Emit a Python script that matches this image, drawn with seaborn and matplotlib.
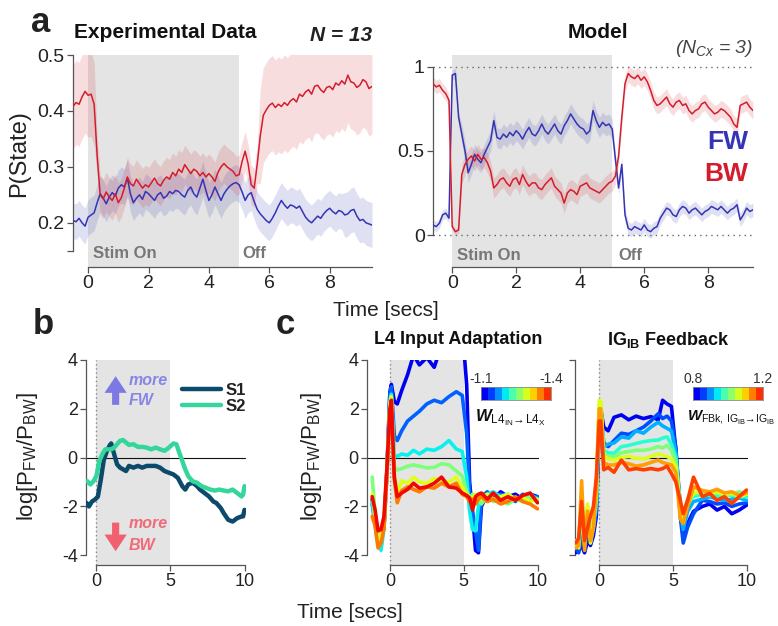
import numpy as np
import pandas as pd
import matplotlib
matplotlib.use('Agg')
import matplotlib.pyplot as plt
import seaborn as sns
from matplotlib.colors import ListedColormap

# ---------------- data ----------------
t_exp = np.round(np.arange(-0.5, 9.41, 0.1), 1)
red_exp = [0.408, 0.415, 0.412, 0.425, 0.435, 0.428, 0.430, 0.412, 0.320, 0.250,
           0.243, 0.255, 0.246, 0.240, 0.252, 0.236, 0.245, 0.262, 0.282, 0.270,
           0.266, 0.278, 0.270, 0.262, 0.268, 0.264, 0.272, 0.280, 0.270, 0.266,
           0.276, 0.282, 0.278, 0.290, 0.284, 0.296, 0.290, 0.304, 0.296, 0.288,
           0.296, 0.292, 0.284, 0.290, 0.282, 0.288, 0.282, 0.274, 0.290, 0.300,
           0.306, 0.300, 0.296, 0.292, 0.284, 0.286, 0.310, 0.328, 0.305, 0.268,
           0.262, 0.305, 0.355, 0.392, 0.402, 0.410, 0.414, 0.406, 0.412, 0.408,
           0.415, 0.410, 0.418, 0.422, 0.416, 0.430, 0.426, 0.434, 0.438, 0.430,
           0.444, 0.446, 0.438, 0.433, 0.442, 0.444, 0.438, 0.450, 0.446, 0.454,
           0.448, 0.464, 0.452, 0.450, 0.442, 0.446, 0.456, 0.452, 0.440, 0.444]
blue_exp = [0.204, 0.202, 0.208, 0.200, 0.194, 0.210, 0.214, 0.218, 0.236, 0.252,
            0.244, 0.234, 0.246, 0.254, 0.248, 0.262, 0.268, 0.264, 0.280, 0.252,
            0.236, 0.244, 0.250, 0.242, 0.256, 0.252, 0.246, 0.240, 0.250, 0.254,
            0.244, 0.248, 0.256, 0.252, 0.258, 0.256, 0.250, 0.246, 0.258, 0.264,
            0.252, 0.246, 0.262, 0.278, 0.258, 0.240, 0.250, 0.264, 0.252, 0.240,
            0.252, 0.260, 0.266, 0.270, 0.272, 0.268, 0.255, 0.240, 0.250, 0.254,
            0.238, 0.224, 0.216, 0.210, 0.204, 0.200, 0.208, 0.218, 0.230, 0.240,
            0.232, 0.226, 0.232, 0.230, 0.226, 0.230, 0.220, 0.210, 0.204, 0.200,
            0.206, 0.212, 0.208, 0.216, 0.222, 0.226, 0.220, 0.216, 0.222, 0.220,
            0.214, 0.216, 0.222, 0.224, 0.212, 0.204, 0.206, 0.200, 0.198, 0.196]
red_exp_err = [0.075] * 8 + [0.035] * 54 + [0.085] * 38
blue_exp_err = [0.032] * 90 + [0.04] * 10

t_mod = np.round(np.arange(-0.6, 9.41, 0.1), 1)
red_mod = [0.90, 0.88, 0.89, 0.86, 0.84, 0.80, 0.05, 0.02, 0.03, 0.36,
           0.42, 0.45, 0.47, 0.44, 0.48, 0.45, 0.46, 0.43, 0.38, 0.28,
           0.30, 0.33, 0.34, 0.31, 0.29, 0.33, 0.34, 0.30, 0.36, 0.32,
           0.29, 0.31, 0.31, 0.28, 0.27, 0.30, 0.32, 0.34, 0.29, 0.27,
           0.25, 0.19, 0.25, 0.27, 0.26, 0.24, 0.29, 0.30, 0.31, 0.28,
           0.27, 0.26, 0.25, 0.27, 0.29, 0.31, 0.32, 0.35, 0.47, 0.70,
           0.90, 0.96, 0.94, 0.93, 0.95, 0.92, 0.94, 0.91, 0.86, 0.80,
           0.77, 0.78, 0.80, 0.82, 0.78, 0.76, 0.79, 0.80, 0.77, 0.78,
           0.74, 0.72, 0.74, 0.75, 0.78, 0.79, 0.76, 0.74, 0.72, 0.73,
           0.75, 0.74, 0.72, 0.70, 0.66, 0.64, 0.77, 0.78, 0.79, 0.76,
           0.74]
blue_mod = [0.06, 0.05, 0.07, 0.12, 0.13, 0.10, 0.95, 0.96, 0.70, 0.60,
            0.50, 0.37, 0.42, 0.48, 0.45, 0.43, 0.48, 0.52, 0.56, 0.68,
            0.58, 0.57, 0.60, 0.58, 0.61, 0.59, 0.62, 0.60, 0.57, 0.61,
            0.64, 0.60, 0.59, 0.62, 0.66, 0.62, 0.60, 0.63, 0.66, 0.62,
            0.60, 0.65, 0.68, 0.72, 0.69, 0.66, 0.64, 0.63, 0.60, 0.62,
            0.74, 0.68, 0.64, 0.67, 0.65, 0.66, 0.63, 0.45, 0.28, 0.42,
            0.12, 0.04, 0.03, 0.05, 0.04, 0.03, 0.06, 0.03, 0.02, 0.04,
            0.05, 0.10, 0.13, 0.16, 0.15, 0.12, 0.11, 0.15, 0.17, 0.16,
            0.13, 0.15, 0.16, 0.14, 0.12, 0.14, 0.15, 0.17, 0.16, 0.15,
            0.17, 0.15, 0.13, 0.15, 0.16, 0.18, 0.09, 0.12, 0.16, 0.14,
            0.15]
red_mod_err = [0.04] * 6 + [0.02] * 3 + [0.06] * 48 + [0.05] * 44
blue_mod_err = [0.03] * 9 + [0.06] * 48 + [0.04] * 44

s1_t = [-0.65, -0.5, -0.3, -0.1, 0.1, 0.3, 0.5, 0.7, 0.9, 1.0, 1.2, 1.4, 1.6, 1.8, 2.0,
        2.2, 2.5, 2.8, 3.1, 3.4, 3.7, 4.0, 4.3, 4.6, 4.9, 5.2, 5.5, 5.8, 6.0, 6.2,
        6.5, 6.8, 7.0, 7.3, 7.6, 7.9, 8.1, 8.4, 8.6, 8.9, 9.2, 9.5, 9.8, 9.9, 10.0]
s1_v = [-1.86, -2.0, -1.8, -1.72, -1.6, -0.9, -0.1, 0.25, 0.5, 0.58, 0.14, -0.28, -0.41, -0.48, -0.55,
        -0.34, -0.41, -0.34, -0.41, -0.34, -0.34, -0.34, -0.41, -0.55, -0.62, -0.69, -0.83, -1.17, -1.31, -1.1,
        -1.03, -1.17, -1.31, -1.45, -1.59, -1.8, -1.86, -2.07, -2.28, -2.55, -2.62, -2.48, -2.41, -2.41, -2.14]
s2_t = [-0.6, -0.4, -0.2, 0.0, 0.2, 0.4, 0.6, 0.8, 1.0, 1.2, 1.4, 1.6, 1.8, 2.0, 2.2,
        2.5, 2.8, 3.1, 3.4, 3.7, 4.0, 4.3, 4.6, 4.9, 5.2, 5.4, 5.6, 5.8, 6.0, 6.2,
        6.5, 6.8, 7.1, 7.4, 7.7, 8.0, 8.3, 8.6, 8.9, 9.2, 9.5, 9.8, 9.9, 10.0]
s2_v = [-0.97, -1.1, -0.97, -0.76, -0.14, 0.14, 0.34, 0.34, 0.34, 0.41, 0.55, 0.69, 0.72, 0.62, 0.52,
        0.55, 0.44, 0.44, 0.41, 0.34, 0.41, 0.34, 0.28, 0.41, 0.58, 0.55, 0.2, -0.14, -0.48, -0.76,
        -0.97, -1.03, -1.17, -1.24, -1.31, -1.35, -1.31, -1.35, -1.38, -1.31, -1.45, -1.59, -1.52, -1.17]

t_cl = [-1.2, -1.0, -0.8, -0.6, -0.4, -0.2, 0.0, 0.1,
        0.3, 0.5, 0.8, 1.2, 1.6, 2.0, 2.5, 3.0, 3.5, 4.0, 4.5, 4.9,
        5.2, 5.4, 5.6, 5.8, 6.0, 6.2, 6.6, 7.0, 7.5, 8.0, 8.5, 9.0, 9.5, 10.0]
cl_curves = [
    [-1.7, -2.6, -3.4, -3.2, -2.9, -0.5, 2.7, 3.0,
     2.3, 2.2, 2.75, 3.4, 4.2, 3.8, 4.1, 3.7, 4.6, 5.0, 5.2, 5.3,
     3.0, -1.0, -2.3, -3.8, -3.9, -2.0, -1.5, -1.7, -1.4, -1.6, -1.5, -1.7, -1.5, -1.6],
    [-1.9, -2.7, -3.5, -3.3, -2.8, -0.6, 2.6, 2.9,
     0.9, 0.7, 1.1, 1.5, 1.7, 1.9, 2.2, 2.35, 2.25, 2.5, 2.7, 2.55,
     1.0, -1.4, -2.2, -3.0, -3.8, -1.6, -1.4, -1.7, -1.5, -1.6, -1.8, -1.5, -1.7, -1.6],
    [-1.8, -2.8, -3.6, -3.8, -2.9, -0.7, 2.3, 2.6,
     0.1, 0.05, 0.15, 0.1, 0.3, 0.15, 0.35, 0.3, 0.45, 0.7, 0.35, 0.25,
     -0.8, -2.2, -2.95, -3.0, -2.0, -1.6, -1.5, -1.4, -1.6, -1.5, -1.7, -1.6, -1.5, -1.7],
    [-0.8, -2.3, -3.2, -3.1, -2.7, -0.6, 2.1, 2.4,
     -0.4, -0.5, -0.45, -0.35, -0.3, -0.35, -0.42, -0.4, -0.25, -0.3, -0.55, -0.75,
     -1.4, -1.7, -1.5, -1.6, -1.7, -1.9, -1.6, -1.8, -1.7, -1.9, -1.7, -1.8, -1.6, -1.8],
    [-1.5, -2.4, -3.4, -3.2, -2.7, -0.5, 2.2, 2.5,
     -0.6, -1.45, -0.95, -1.05, -0.8, -1.0, -1.05, -0.85, -0.95, -1.0, -0.8, -1.2,
     -1.5, -1.6, -1.7, -1.5, -1.6, -1.7, -1.5, -1.7, -1.6, -1.5, -1.7, -1.6, -1.8, -1.7],
    [-2.4, -2.8, -3.7, -3.5, -2.9, -0.8, 1.9, 2.2,
     -0.9, -1.85, -1.35, -1.2, -1.3, -1.4, -1.2, -1.25, -1.05, -1.2, -1.05, -1.5,
     -1.6, -1.8, -1.7, -1.9, -1.7, -1.6, -1.8, -1.7, -1.9, -1.8, -1.6, -1.8, -1.9, -2.1],
    [-1.6, -2.15, -3.0, -2.95, -2.4, -0.4, 2.0, 2.35,
     -0.8, -1.6, -1.45, -1.3, -1.05, -1.25, -1.2, -1.05, -0.8, -1.2, -1.25, -1.45,
     -1.55, -1.65, -2.15, -1.6, -1.5, -1.45, -1.7, -1.45, -1.75, -1.6, -1.75, -1.55, -1.45, -1.85],
]
cl_levels = [0.1, 0.22, 0.36, 0.5, 0.62, 0.78, 0.9]

t_cr = [-1.6, -1.4, -1.2, -1.0, -0.8, -0.6, -0.4, -0.2, -0.1, 0.0,
        0.1, 0.3, 0.6, 1.0, 1.5, 2.0, 2.5, 3.0, 3.5, 4.0, 4.3, 4.6, 4.9,
        5.2, 5.5, 5.7, 6.0, 6.4, 7.0, 7.5, 8.0, 8.5, 9.0, 9.5, 10.0]
cr_curves = [
    [-3.9, -3.8, -3.6, -3.9, -3.4, -3.6, -3.2, -2.4, -0.5, 1.4,
     2.0, 1.25, 1.1, 1.65, 1.75, 1.55, 1.7, 1.6, 1.68, 1.55, 2.35, 2.2, 2.1,
     0.3, -2.0, -3.3, -2.7, -2.2, -2.0, -1.9, -2.15, -2.0, -2.3, -2.15, -1.95],
    [-3.7, -3.9, -3.3, -3.7, -3.1, -3.5, -3.0, -2.2, -0.3, 1.6,
     1.9, 0.6, 0.45, 0.7, 1.0, 0.95, 1.1, 1.25, 1.5, 1.8, 1.6, 1.7, 1.5,
     0.4, -2.4, -3.5, -2.85, -2.3, -1.75, -1.8, -1.9, -1.85, -2.0, -1.9, -1.85],
    [-3.5, -3.6, -3.0, -3.4, -2.8, -3.3, -2.8, -2.0, 0.0, 1.8,
     2.0, 0.45, 0.55, 0.6, 0.85, 0.8, 1.1, 1.0, 1.25, 1.45, 1.3, 1.2, 1.1,
     0.2, -2.2, -2.95, -2.2, -1.8, -1.7, -1.6, -1.7, -1.75, -1.7, -1.65, -1.75],
    [-3.6, -3.4, -2.6, -3.2, -2.4, -3.2, -2.7, -1.8, 0.2, 2.0,
     2.1, 0.3, 0.2, 0.18, 0.45, 0.5, 0.58, 0.65, 0.7, 0.72, 0.8, 0.85, 0.55,
     0.0, -2.0, -2.4, -1.8, -1.6, -1.5, -1.55, -1.6, -1.5, -1.55, -1.6, -1.6],
    [-3.4, -3.5, -2.2, -3.3, -2.0, -3.3, -2.6, -1.6, 0.4, 2.2,
     2.2, 0.15, 0.05, 0.03, 0.2, 0.25, 0.3, 0.3, 0.35, 0.45, 0.4, 0.5, 0.3,
     -0.2, -1.9, -2.3, -1.7, -1.5, -1.4, -1.5, -1.45, -1.55, -1.5, -1.4, -1.5],
    [-3.6, -3.7, -1.5, -3.6, -1.9, -3.5, -2.8, -1.4, 0.6, 2.35,
     2.3, 0.05, -0.05, -0.1, 0.0, 0.05, -0.02, -0.05, 0.05, 0.15, 0.1, 0.05, -0.05,
     -0.4, -2.1, -2.6, -1.9, -1.45, -1.35, -1.45, -1.4, -1.5, -1.45, -1.6, -1.5],
    [-3.7, -3.6, -0.95, -3.8, -2.2, -3.4, -2.9, -1.2, 0.7, 2.0,
     2.0, -0.2, -0.3, -0.3, -0.2, -0.25, -0.35, -0.3, -0.2, -0.1, -0.2, -0.25, -0.3,
     -0.6, -2.5, -2.7, -2.0, -1.2, -1.35, -1.4, -1.3, -1.45, -1.4, -1.55, -1.45],
    [-3.5, -3.3, -1.8, -3.4, -2.9, -2.4, -2.0, -0.8, 0.3, 1.5,
     1.5, -0.5, -0.4, -0.6, -0.1, -0.5, -0.45, -0.5, -0.45, -0.5, -0.45, -0.35, -0.65,
     -1.0, -1.75, -2.3, -1.75, -0.8, -1.6, -1.47, -1.75, -1.6, -1.88, -1.6, -1.33],
]
cr_levels = [0.1, 0.2, 0.3, 0.4, 0.5, 0.62, 0.74, 0.84]

cbar_levels = np.linspace(0.1, 0.86, 10)
cbar_left_labels = ['-1.1', '-1.4']
cbar_right_labels = ['0.8', '1.2']

# ---------------- style ----------------
sns.set_theme(style='ticks')
plt.rcParams['font.family'] = ['Liberation Sans', 'DejaVu Sans']
plt.rcParams['mathtext.fontset'] = 'custom'
plt.rcParams['mathtext.rm'] = 'Liberation Sans'
plt.rcParams['mathtext.it'] = 'Liberation Sans:italic'
plt.rcParams['mathtext.bf'] = 'Liberation Sans:bold'
plt.rcParams['mathtext.sf'] = 'Liberation Sans:bold:italic'
plt.rcParams['axes.unicode_minus'] = False
for k in ['text.color', 'axes.labelcolor', 'xtick.color', 'ytick.color']:
    plt.rcParams[k] = '#222222'

RED = '#d41c2c'
BLUE = '#3434b4'
SHADE = '#e4e4e4'
GRAY_TXT = '#777777'
SPINE = '#555555'
S1C = '#0c4a6c'
S2C = '#34d69b'
jet = plt.get_cmap('jet')

W, H = 778, 626
fig = plt.figure(figsize=(W / 100, H / 100), dpi=100)


def px_axes(l, t, r, b):
    return fig.add_axes([l / W, 1 - b / H, (r - l) / W, (b - t) / H])


def style_axes(ax, xb, yb, lab=14):
    for s in ['top', 'right']:
        ax.spines[s].set_visible(False)
    for s in ['left', 'bottom']:
        ax.spines[s].set_color(SPINE)
        ax.spines[s].set_linewidth(0.9)
    ax.spines['bottom'].set_bounds(*xb)
    ax.spines['left'].set_bounds(*yb)
    ax.tick_params(direction='out', length=4, width=0.9, color=SPINE,
                   labelsize=lab, pad=2)
    ax.set_xlabel('')
    ax.set_ylabel('')


# ---------------- panel a left ----------------
ax = px_axes(73, 55, 372, 267)
ax.axvspan(0, 5, color=SHADE, lw=0, zorder=0)
re, rerr = np.array(red_exp), np.array(red_exp_err)
be, berr = np.array(blue_exp), np.array(blue_exp_err)
ax.fill_between(t_exp, be - berr, be + berr, color=BLUE, alpha=0.15, lw=0, zorder=1)
ax.fill_between(t_exp, re - rerr, re + rerr, color=RED, alpha=0.15, lw=0, zorder=1)
sns.lineplot(x=t_exp, y=be, color=BLUE, lw=1.1, ax=ax, zorder=3)
sns.lineplot(x=t_exp, y=re, color=RED, lw=1.1, ax=ax, zorder=3)
ax.set_xlim(-0.5, 9.4)
ax.set_ylim(0.121, 0.5)
style_axes(ax, (0, 9.4), (0.15, 0.5))
ax.set_xticks([0, 2, 4, 6, 8])
ax.set_yticks([0.15, 0.2, 0.3, 0.4, 0.5])
ax.set_yticklabels(['', '0.2', '0.3', '0.4', '0.5'])
ax.text(0.17, 0.145, 'Stim On', color=GRAY_TXT, fontsize=12, fontweight='bold', va='center')
ax.text(5.12, 0.145, 'Off', color=GRAY_TXT, fontsize=12, fontweight='bold', va='center')
ax.text(0.005, 1.104, 'Experimental Data', transform=ax.transAxes, fontsize=15,
        fontweight='bold', va='center', ha='left', color='#111111')
ax.text(1.0, 1.09, 'N = 13', transform=ax.transAxes, fontsize=15, fontweight='bold',
        style='italic', va='center', ha='right', color='#222222')

# ---------------- panel a right ----------------
ax = px_axes(433, 55, 753, 267)
ax.axvspan(0, 5, color=SHADE, lw=0, zorder=0)
ax.axhline(1, color='#666666', ls=(0, (1, 3)), lw=1, zorder=1)
ax.axhline(0, color='#666666', ls=(0, (1, 3)), lw=1, zorder=1)
rm, rmerr = np.array(red_mod), np.array(red_mod_err)
bm, bmerr = np.array(blue_mod), np.array(blue_mod_err)
ax.fill_between(t_mod, bm - bmerr, bm + bmerr, color=BLUE, alpha=0.15, lw=0, zorder=1)
ax.fill_between(t_mod, rm - rmerr, rm + rmerr, color=RED, alpha=0.15, lw=0, zorder=1)
sns.lineplot(x=t_mod, y=bm, color=BLUE, lw=1.1, ax=ax, zorder=3)
sns.lineplot(x=t_mod, y=rm, color=RED, lw=1.1, ax=ax, zorder=3)
ax.set_xlim(-0.6, 9.4)
ax.set_ylim(-0.19, 1.07)
style_axes(ax, (0, 9.4), (0, 1))
ax.set_xticks([0, 2, 4, 6, 8])
ax.set_yticks([0, 0.5, 1])
ax.set_yticklabels(['0', '0.5', '1'])
ax.text(0.16, -0.12, 'Stim On', color=GRAY_TXT, fontsize=12, fontweight='bold', va='center')
ax.text(5.18, -0.12, 'Off', color=GRAY_TXT, fontsize=12, fontweight='bold', va='center')
ax.text(9.25, 0.55, 'FW', color=BLUE, fontsize=19, fontweight='bold', ha='right', va='center')
ax.text(9.25, 0.36, 'BW', color=RED, fontsize=19, fontweight='bold', ha='right', va='center')
ax.text(0.515, 1.104, 'Model', transform=ax.transAxes, fontsize=15, fontweight='bold',
        ha='center', va='center', color='#111111')
ax.text(1.0, 1.033, r'($N_{Cx}$ = 3)', transform=ax.transAxes, fontsize=14,
        style='italic', ha='right', va='center', color='#444444')

# ---------------- panel b ----------------
ax = px_axes(86, 360, 246, 565)
ax.axvspan(0, 5, color=SHADE, lw=0, zorder=0)
ax.axvline(0, color='#888888', ls=(0, (1, 2)), lw=1, zorder=1)
ax.axhline(0, color='#111111', lw=0.8, zorder=1, xmax=(10.05 + 0.7) / 10.8)
df_b = pd.DataFrame({'t': s1_t + s2_t, 'v': s1_v + s2_v,
                     'series': ['S1'] * len(s1_t) + ['S2'] * len(s2_t)})
sns.lineplot(data=df_b, x='t', y='v', hue='series', palette={'S1': S1C, 'S2': S2C},
             lw=3.2, ax=ax, zorder=3, sort=False)
ax.set_xlim(-0.7, 10.1)
ax.set_ylim(-4.4, 4)
style_axes(ax, (0, 10), (-4, 4), lab=13)
ax.set_xticks([0, 5, 10])
ax.set_yticks([-4, -2, 0, 2, 4])
h, l = ax.get_legend_handles_labels()
ax.legend(h, l, loc='upper left', bbox_to_anchor=(0.56, 0.92), frameon=False,
          handlelength=2.3, handletextpad=0.3, labelspacing=0.05, borderaxespad=0,
          prop={'weight': 'bold', 'size': 12})
ax.annotate('', xy=(1.3, 3.45), xytext=(1.3, 2.05),
            arrowprops=dict(arrowstyle='simple,head_length=0.75,head_width=1.0,tail_width=0.32',
                            color='#7c7ae2', lw=0, mutation_scale=16))
ax.annotate('', xy=(1.3, -3.95), xytext=(1.3, -2.55),
            arrowprops=dict(arrowstyle='simple,head_length=0.75,head_width=1.0,tail_width=0.32',
                            color='#f0606e', lw=0, mutation_scale=16))
tk = dict(fontsize=11.5, fontweight='bold', style='italic', va='center', ha='left')
ax.text(2.2, 3.17, 'more', color='#8785e6', **tk)
ax.text(2.2, 2.35, 'FW', color='#8785e6', **tk)
ax.text(2.2, -2.72, 'more', color='#f06a78', **tk)
ax.text(2.2, -3.6, 'BW', color='#f06a78', **tk)

# ---------------- panel c ----------------
def panel_c(ax, t, curves, levels, xl):
    ax.axvspan(0, 5, color=SHADE, lw=0, zorder=0)
    ax.axvline(0, color='#888888', ls=(0, (1, 2)), lw=1, zorder=1)
    ax.axhline(0, color='#111111', lw=0.8, zorder=1)
    for i, (c, lev) in enumerate(zip(curves, levels)):
        sns.lineplot(x=t, y=c, color=jet(lev), lw=2.6, ax=ax, zorder=3 + i)
    ax.set_xlim(*xl)
    ax.set_ylim(-4.4, 4)
    style_axes(ax, (0, 10), (-4, 4), lab=13)
    ax.set_xticks([0, 5, 10])
    ax.set_yticks([-4, -2, 0, 2, 4])


ax = px_axes(367, 360, 539, 565)
panel_c(ax, t_cl, cl_curves, cl_levels, (-1.55, 10.1))
ax.text(0.53, 1.098, 'L4 Input Adaptation', transform=ax.transAxes, fontsize=13,
        fontweight='bold', ha='center', va='center', color='#111111')

ax = px_axes(575, 360, 748, 565)
panel_c(ax, t_cr, cr_curves, cr_levels, (-1.65, 10.1))
ax.set_yticklabels([])
ax.text(0.54, 1.098, r'IG$_{\mathbf{IB}}$ Feedback', transform=ax.transAxes, fontsize=13,
        fontweight='bold', ha='center', va='center', color='#111111')

# colour bars
renderer = fig.canvas.get_renderer()
cb_cmap = ListedColormap([jet(v) for v in cbar_levels])
for (l, r), labs, lab, maxw in [((481, 551), cbar_left_labels,
                                 r'$\mathsf{W}_{\rm L4_{IN}\!\rightarrow\!L4_{X}}$', 70),
                                ((693, 763), cbar_right_labels,
                                 r'$\mathsf{W}_{\rm FBk,\,IG_{IB}\!\rightarrow\!IG_{IB}}$', 88)]:
    cax = px_axes(l, 387, r, 400)
    sns.heatmap(np.arange(len(cbar_levels)).reshape(1, -1), cmap=cb_cmap, cbar=False,
                xticklabels=False, yticklabels=False, ax=cax, linewidths=0)
    for s in cax.spines.values():
        s.set_visible(True)
        s.set_color('#888888')
        s.set_linewidth(0.6)
    fig.text(l / W, 1 - 379 / H, labs[0], fontsize=10, ha='center', va='center', color='#333333')
    fig.text(r / W, 1 - 379 / H, labs[1], fontsize=10, ha='center', va='center', color='#333333')
    txt = fig.text((l - 6) / W, 1 - 418 / H, lab, fontsize=13, ha='left', va='center',
                   color='#111111')
    wpx = txt.get_window_extent(renderer).width
    if wpx > maxw:
        txt.set_fontsize(13 * maxw / wpx)

# ---------------- figure texts ----------------
fig.text(19 / W, 1 - 154 / H, 'P(State)', rotation=90, fontsize=17, ha='center', va='center')
ylab = r'log[P$_{\rm FW}$/P$_{\rm BW}$]'
fig.text(27 / W, 1 - 456 / H, ylab, rotation=90, fontsize=16, ha='center', va='center')
fig.text(311 / W, 1 - 456 / H, ylab, rotation=90, fontsize=16, ha='center', va='center')
fig.text(386 / W, 1 - 310 / H, 'Time [secs]', fontsize=15, ha='center', va='center')
fig.text(350 / W, 1 - 613 / H, 'Time [secs]', fontsize=15, ha='center', va='center')
fig.text(41 / W, 1 - 22 / H, 'a', fontsize=25, fontweight='bold', ha='center', va='center')
fig.text(43 / W, 1 - 325 / H, 'b', fontsize=25, fontweight='bold', ha='center', va='center')
fig.text(285 / W, 1 - 325 / H, 'c', fontsize=25, fontweight='bold', ha='center', va='center')

fig.savefig('out.png', dpi=100)
